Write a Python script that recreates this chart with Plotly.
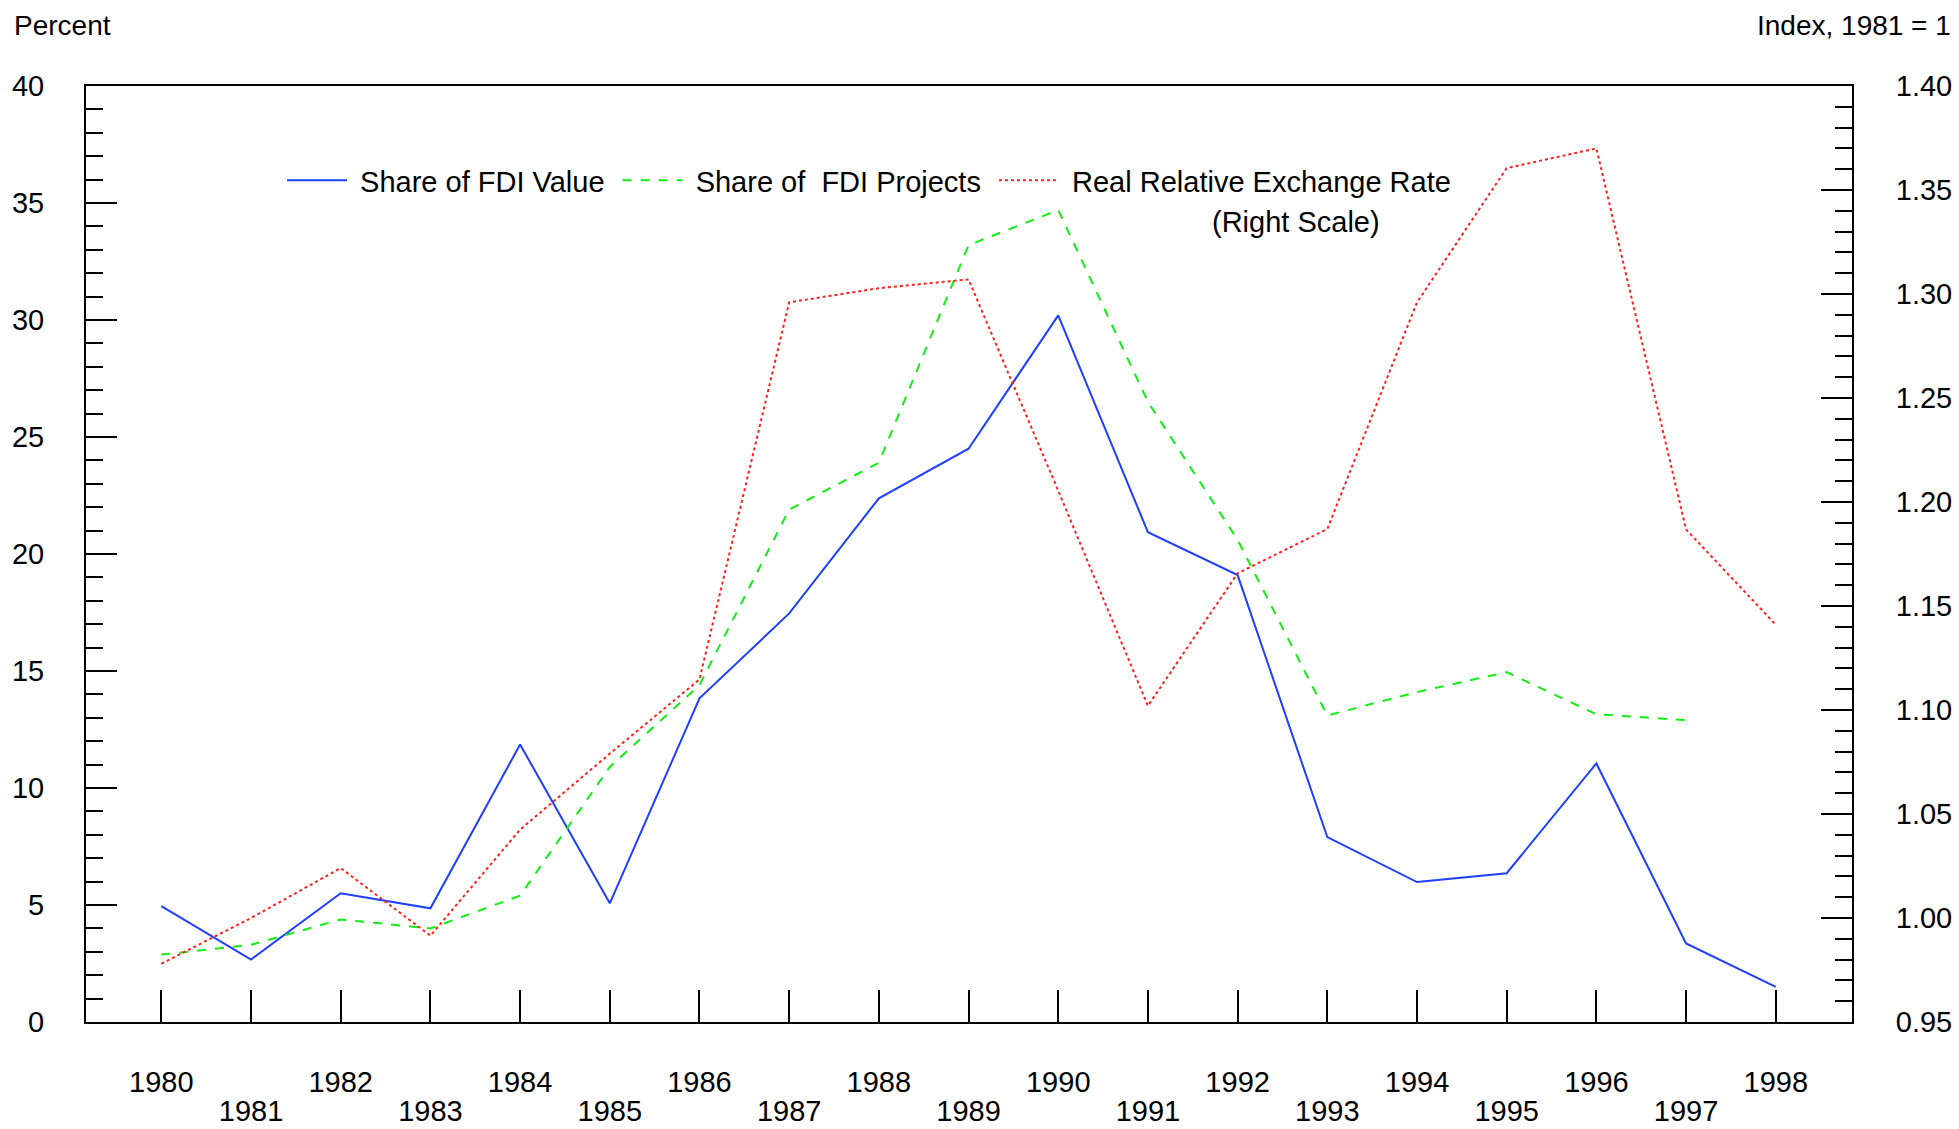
import plotly.graph_objects as go

years = list(range(1980, 1999))

fdi_value = [4.95, 2.67, 5.5, 4.86, 11.86, 5.07, 13.83, 17.46, 22.38, 24.5,
             30.2, 20.93, 19.1, 7.9, 5.98, 6.36, 11.05, 3.36, 1.5]
fdi_projects = [2.88, 3.3, 4.38, 4.0, 5.4, 10.9, 14.4, 21.9, 23.9, 33.2,
                34.7, 26.5, 20.6, 13.1, 14.1, 14.95, 13.15, 12.9]
exch_rate = [0.978, 1.0, 1.024, 0.9915, 1.0425, 1.079, 1.1147, 1.296, 1.3028, 1.307,
             1.2054, 1.102, 1.1657, 1.187, 1.296, 1.3605, 1.370, 1.1868, 1.141]

odd_years = [y for y in years if y % 2 == 1]
main_tick_text = [str(y) if y % 2 == 0 else "" for y in years]

FONT = "Liberation Sans, Arial, Helvetica, sans-serif"
W, H = 1959, 1129
L, R, T, B = 86, 107, 86, 107
PW, PH = W - L - R, H - T - B
XRANGE = [1979.16, 1998.85]

fig = go.Figure()
fig.add_trace(go.Scatter(x=years, y=fdi_value, mode="lines", name=" Share of FDI Value ",
                         line=dict(color="#1F3FFF", width=2)))
fig.add_trace(go.Scatter(x=years[:len(fdi_projects)], y=fdi_projects, mode="lines",
                         name=" Share of  FDI Projects ",
                         line=dict(color="#11EE11", width=2, dash="dash")))
fig.add_trace(go.Scatter(x=years, y=exch_rate, mode="lines", yaxis="y2",
                         name=" Real Relative Exchange Rate",
                         line=dict(color="#FF2020", width=2, dash="dot")))
# carrier for the second row of (odd-year) tick labels
fig.add_trace(go.Scatter(x=odd_years, y=[None] * len(odd_years), xaxis="x2", mode="lines",
                         showlegend=False, hoverinfo="skip"))

fig.update_layout(
    width=W, height=H,
    margin=dict(l=L, r=R, t=T, b=B, autoexpand=False),
    paper_bgcolor="white", plot_bgcolor="white",
    font=dict(family=FONT, size=29, color="black"),
    showlegend=True,
    legend=dict(orientation="h", x=(287 - L - 5) / PW, y=1 - (155 - T) / PH,
                xanchor="left", yanchor="top", itemwidth=60,
                bgcolor="rgba(0,0,0,0)", font=dict(size=29)),
    xaxis=dict(range=XRANGE, tickmode="array", tickvals=years, ticktext=main_tick_text,
               ticks="inside", ticklen=32, tickwidth=2, tickcolor="black",
               showline=True, linewidth=2, linecolor="black", mirror=True, automargin=False,
               showgrid=False, zeroline=False, ticklabelstandoff=33),
    xaxis2=dict(range=XRANGE, tickmode="array", tickvals=odd_years, ticktext=[str(y) for y in odd_years],
                overlaying="x", anchor="y", side="bottom", ticks="", showline=False,
                showgrid=False, zeroline=False, automargin=False, ticklabelstandoff=69),
    yaxis=dict(range=[0, 40], dtick=5, ticks="inside", ticklen=31, tickwidth=2, tickcolor="black",
               minor=dict(ticks="inside", ticklen=17, dtick=1, tickwidth=2, tickcolor="black", showgrid=False),
               showline=True, linewidth=2, linecolor="black", mirror=True, automargin=False,
               showgrid=False, zeroline=False, ticklabelstandoff=34),
    yaxis2=dict(range=[0.95, 1.40], dtick=0.05, tickformat=".2f", overlaying="y", side="right",
                ticks="inside", ticklen=31, tickwidth=2, tickcolor="black",
                minor=dict(ticks="inside", ticklen=17, dtick=0.01, tickwidth=2, tickcolor="black", showgrid=False),
                showline=True, linewidth=2, linecolor="black", automargin=False,
                showgrid=False, zeroline=False, ticklabelstandoff=36),
    annotations=[
        dict(text="Percent", xref="paper", yref="paper", x=(12 - L) / PW, y=1 + (T - 25) / PH,
             xanchor="left", yanchor="middle", showarrow=False, font=dict(size=28)),
        dict(text="Index, 1981 = 1", xref="paper", yref="paper", x=(1953 - L) / PW, y=1 + (T - 25) / PH,
             xanchor="right", yanchor="middle", showarrow=False, font=dict(size=28)),
        dict(text="(Right Scale)", xref="paper", yref="paper", x=(1296 - L) / PW, y=1 - (222 - T) / PH,
             xanchor="center", yanchor="middle", showarrow=False, font=dict(size=29)),
    ],
)

fig.write_html("out.html", config={"displayModeBar": False},
               post_script="document.body.style.margin='0';document.body.style.overflow='hidden';")
